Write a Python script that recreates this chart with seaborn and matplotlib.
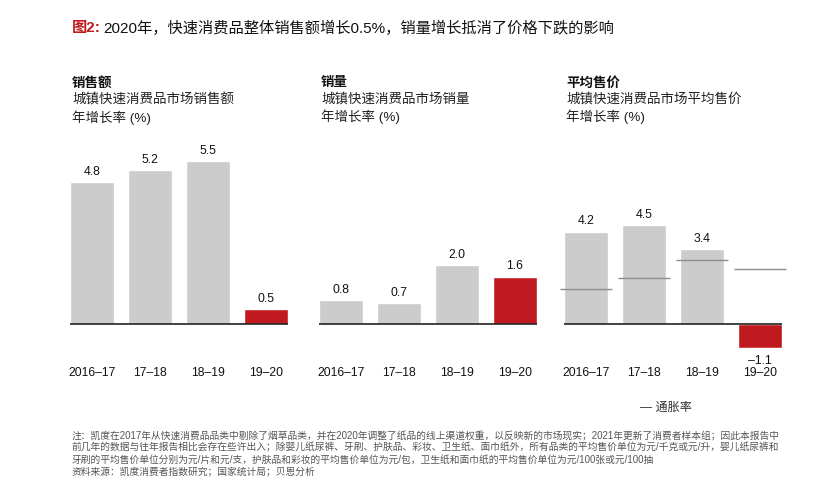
import pandas as pd
import matplotlib
matplotlib.use("Agg")
import matplotlib.pyplot as plt
import seaborn as sns

sns.set_theme(style="white")
plt.rcParams["font.family"] = ["Liberation Sans", "Noto Sans CJK SC", "DejaVu Sans"]

# ─── data ────────────────────────────────────────────────────────────────────
periods = ["2016–17", "17–18", "18–19", "19–20"]
sales_growth = [4.8, 5.2, 5.5, 0.5]
volume_growth = [0.8, 0.7, 2.0, 1.6]
price_growth = [4.2, 4.5, 3.4, -1.1]
inflation = [1.6, 2.1, 2.9, 2.5]

panel_titles = ["销售额", "销量", "平均售价"]
panel_subtitles = ["城镇快速消费品市场销售额\n年增长率 (%)",
                   "城镇快速消费品市场销量\n年增长率 (%)",
                   "城镇快速消费品市场平均售价\n年增长率 (%)"]

GREY = "#CCCCCC"
RED = "#C0191F"
W, H = 838, 501

fig = plt.figure(figsize=(W / 100, H / 100), dpi=100)


def fx(px):
    return px / W


def fy(py):
    return 1 - py / H


# panel geometry in pixels: left edge, px per unit
panels = [(70, 29.6, sales_growth), (319, 29.6, volume_growth), (564, 22.0, price_growth)]
top_px, bot_px, zero_px, width_px = 140, 360, 324, 218

for k, (left, scale, vals) in enumerate(panels):
    ax = fig.add_axes([fx(left), fy(bot_px), width_px / W, (bot_px - top_px) / H])
    df = pd.DataFrame({"period": periods, "value": vals})
    colors = [GREY, GREY, GREY, RED]
    sns.barplot(data=df, x="period", y="value", hue="period", palette=colors,
                width=0.76, legend=False, ax=ax, saturation=1)
    ax.set_xlim(-0.38, 3.38)
    ax.set_ylim(-(bot_px - zero_px) / scale, (zero_px - top_px) / scale)
    ax.axhline(0, color="#222222", linewidth=1.2)
    if k == 2:
        ax.hlines(inflation, [i - 0.45 for i in range(4)], [i + 0.45 for i in range(4)],
                  color="#8C8C8C", linewidth=1.0, clip_on=False, zorder=5)
    for i, v in enumerate(vals):
        lbl = f"{v:.1f}" if v >= 0 else f"–{abs(v):.1f}"
        ax.annotate(lbl, (i, v), xytext=(0, 3 if v >= 0 else -5), textcoords="offset points",
                    ha="center", va="bottom" if v >= 0 else "top", fontsize=8.8, color="#111111")
    for s in ax.spines.values():
        s.set_visible(False)
    ax.set_yticks([])
    ax.set_xlabel("")
    ax.set_ylabel("")
    ax.tick_params(axis="x", length=0, pad=5, labelsize=8.7, labelcolor="#111111")
    ax.patch.set_alpha(0)

    tx = left + 2
    fig.text(fx(tx), fy(83), panel_titles[k], fontsize=9.7, fontweight="bold",
             va="center", ha="left", color="#111111")
    fig.text(fx(tx), fy(93), panel_subtitles[k], fontsize=9.7, va="top", ha="left",
             color="#222222", linespacing=1.33)

# title
fig.text(fx(72), fy(28), "图2:", fontsize=11, fontweight="bold", color="#C0191F", va="center")
fig.text(fx(103), fy(28), "2020年，快速消费品整体销售额增长0.5%，销量增长抵消了价格下跌的影响",
         fontsize=11, color="#111111", va="center")

# legend
fig.text(fx(640), fy(408), "— 通胀率", fontsize=8.7, color="#333333", va="center")

notes = [
    "注：凯度在2017年从快速消费品品类中剔除了烟草品类，并在2020年调整了纸品的线上渠道权重，以反映新的市场现实；2021年更新了消费者样本组；因此本报告中",
    "前几年的数据与往年报告相比会存在些许出入；除婴儿纸尿裤、牙刷、护肤品、彩妆、卫生纸、面巾纸外，所有品类的平均售价单位为元/千克或元/升，婴儿纸尿裤和",
    "牙刷的平均售价单位分别为元/片和元/支，护肤品和彩妆的平均售价单位为元/包，卫生纸和面巾纸的平均售价单位为元/100张或元/100抽",
    "资料来源：凯度消费者指数研究；国家统计局；贝恩分析",
]
for j, line in enumerate(notes):
    fig.text(fx(72), fy(436 + 11.7 * j), line, fontsize=7.0, color="#555555", va="center")

fig.savefig("out.png", dpi=100)
